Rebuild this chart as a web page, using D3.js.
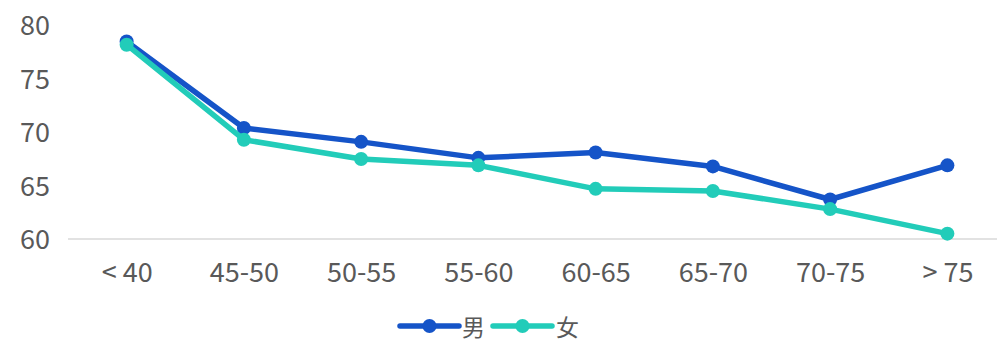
<!DOCTYPE html>
<html>
<head>
<meta charset="utf-8">
<script src="https://cdn.jsdelivr.net/npm/d3@7"></script>
<style>
  html, body { margin: 0; padding: 0; background: #fff; }
  svg { display: block; }
  text { font-family: "Noto Sans CJK SC", "Open Sans", sans-serif; fill: #595959; }
</style>
</head>
<body>
<svg id="chart" width="997" height="344"></svg>
<script>
// Age groups and average values per group
const categories = ["< 40", "45-50", "50-55", "55-60", "60-65", "65-70", "70-75", "> 75"];
const maleValues = [78.5, 70.4, 69.1, 67.6, 68.1, 66.8, 63.7, 66.9];
const femaleValues = [78.2, 69.3, 67.5, 66.9, 64.7, 64.5, 62.8, 60.5];
const yTicks = [60, 65, 70, 75, 80];
const seriesNames = ["男", "女"];
const seriesColors = ["#1554c8", "#22ccb9"];

const svg = d3.select("#chart");
const margin = { left: 68, right: -9, top: 25.5, bottom: 105 };
const W = 997, H = 344;

const x = d3.scalePoint()
  .domain(categories)
  .range([margin.left, W - margin.right])
  .padding(0.5);

const y = d3.scaleLinear()
  .domain([60, 80])
  .range([H - margin.bottom, margin.top]);

// Baseline
svg.append("line")
  .attr("x1", margin.left).attr("x2", W - margin.right)
  .attr("y1", y(60)).attr("y2", y(60))
  .attr("stroke", "#d9d9d9").attr("stroke-width", 1.5);

// Y axis labels
const yAxis = d3.axisLeft(y).tickValues(yTicks).tickSize(0).tickPadding(0);
const gy = svg.append("g").attr("transform", "translate(50,0)").call(yAxis);
gy.select(".domain").remove();
gy.selectAll("text").style("font-size", "27px").attr("fill", "#595959").attr("dy", "0.35em");

// X axis labels
const xAxis = d3.axisBottom(x).tickSize(0).tickPadding(0);
const gx = svg.append("g").attr("transform", `translate(0,${y(60) + 34})`).call(xAxis);
gx.select(".domain").remove();
gx.selectAll("text").style("font-size", "27px").attr("fill", "#595959").attr("dy", "0.35em");

const series = [
  { name: seriesNames[0], values: maleValues, color: seriesColors[0] },
  { name: seriesNames[1], values: femaleValues, color: seriesColors[1] }
];

const line = d3.line()
  .x((d, i) => x(categories[i]))
  .y(d => y(d));

series.forEach(s => {
  const g = svg.append("g");
  g.append("path")
    .datum(s.values)
    .attr("d", line)
    .attr("fill", "none")
    .attr("stroke", s.color)
    .attr("stroke-width", 5.5)
    .attr("stroke-linejoin", "round");
  g.selectAll("circle")
    .data(s.values)
    .join("circle")
    .attr("cx", (d, i) => x(categories[i]))
    .attr("cy", d => y(d))
    .attr("r", 7)
    .attr("fill", s.color);
});

// Legend
const legendY = 326;
const legendItems = [
  { x0: 400, textX: 462 },
  { x0: 493, textX: 556 }
];
series.forEach((s, i) => {
  const it = legendItems[i];
  const g = svg.append("g");
  g.append("line")
    .attr("x1", it.x0).attr("x2", it.x0 + 59)
    .attr("y1", legendY).attr("y2", legendY)
    .attr("stroke", s.color).attr("stroke-width", 5.5).attr("stroke-linecap", "round");
  g.append("circle")
    .attr("cx", it.x0 + 29.5).attr("cy", legendY).attr("r", 7)
    .attr("fill", s.color);
  g.append("text")
    .attr("x", it.textX).attr("y", legendY)
    .attr("dominant-baseline", "central")
    .style("font-size", "23px")
    .text(s.name);
});
</script>
</body>
</html>
